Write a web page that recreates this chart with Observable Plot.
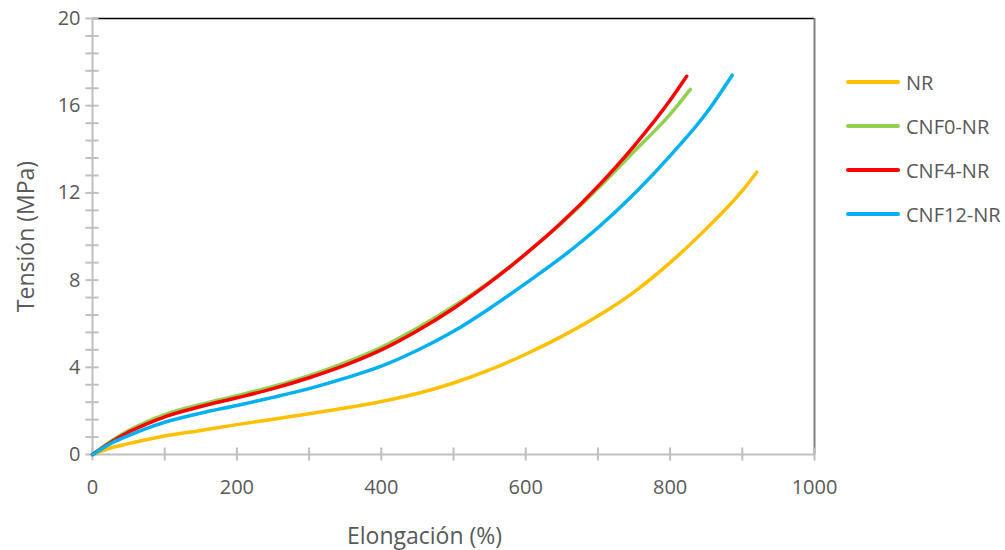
<!DOCTYPE html>
<html>
<head>
<meta charset="utf-8">
<script src="https://cdn.jsdelivr.net/npm/d3@7"></script>
<script src="https://cdn.jsdelivr.net/npm/@observablehq/plot@0.6"></script>
<style>
  body { margin: 0; background: #fff; }
  #wrap { position: relative; width: 1005px; height: 550px; font-family: "Open Sans", sans-serif; color: #595959; }
  #legend { position: absolute; left: 846px; top: 60px; }
  .item { display: flex; align-items: center; height: 44px; }
  .sw { width: 54px; height: 4px; border-radius: 2px; margin-right: 6px; }
  .lab { font-size: 20px; color: #595959; }
  #xtitle { position: absolute; left: 347px; top: 521px; font-size: 23px; line-height: 28px; color: #595959; white-space: nowrap; }
</style>
</head>
<body>
<div id="wrap"></div>
<script>
// ---- data ----
const seriesNames = ["NR", "CNF0-NR", "CNF4-NR", "CNF12-NR"];
const seriesColors = ["#FFC000", "#92D050", "#FF0000", "#00B0F0"];

const elongNR    = [0, 25, 50, 100, 150, 200, 250, 300, 350, 400, 450, 500, 550, 600, 650, 700, 750, 800, 850, 900, 920];
const tensionNR  = [0, 0.3, 0.5, 0.85, 1.1, 1.37, 1.62, 1.87, 2.13, 2.43, 2.8, 3.28, 3.88, 4.6, 5.42, 6.35, 7.45, 8.8, 10.35, 12.1, 12.95];

const elongCNF0   = [0, 25, 50, 75, 100, 150, 200, 250, 300, 350, 400, 450, 500, 550, 600, 650, 700, 750, 800, 828];
const tensionCNF0 = [0, 0.6, 1.1, 1.5, 1.83, 2.3, 2.7, 3.12, 3.62, 4.22, 4.92, 5.8, 6.8, 7.92, 9.2, 10.62, 12.2, 13.9, 15.6, 16.75];

const elongCNF4   = [0, 25, 50, 75, 100, 150, 200, 250, 300, 350, 400, 450, 500, 550, 600, 650, 700, 750, 800, 823];
const tensionCNF4 = [0, 0.55, 1.03, 1.4, 1.73, 2.2, 2.6, 3.02, 3.52, 4.1, 4.8, 5.68, 6.7, 7.88, 9.2, 10.65, 12.3, 14.15, 16.25, 17.35];

const elongCNF12   = [0, 25, 50, 75, 100, 150, 200, 250, 300, 350, 400, 450, 500, 550, 600, 650, 700, 750, 800, 850, 886];
const tensionCNF12 = [0, 0.5, 0.87, 1.2, 1.48, 1.9, 2.25, 2.62, 3.02, 3.5, 4.05, 4.78, 5.65, 6.7, 7.85, 9.05, 10.4, 11.95, 13.7, 15.65, 17.4];

const xMajorTicks = [0, 200, 400, 600, 800, 1000];
const xMinorTicks = [0, 100, 200, 300, 400, 500, 600, 700, 800, 900, 1000];
const yMajorTicks = [0, 4, 8, 12, 16, 20];
const yMinorTicks = [0, 0.8, 1.6, 2.4, 3.2, 4, 4.8, 5.6, 6.4, 7.2, 8, 8.8, 9.6, 10.4, 11.2, 12, 12.8, 13.6, 14.4, 15.2, 16, 16.8, 17.6, 18.4, 19.2, 20];

const xTitle = "Elongación (%)";
const yTitle = "Tensión (MPa)";

// ---- build table ----
const xs = [elongNR, elongCNF0, elongCNF4, elongCNF12];
const ys = [tensionNR, tensionCNF0, tensionCNF4, tensionCNF12];
const rows = [];
seriesNames.forEach((name, i) => {
  xs[i].forEach((x, j) => rows.push({series: name, x, y: ys[i][j]}));
});

const grey = "#BFBFBF";
const textColor = "#595959";
const fmt = d => String(d);

const chart = Plot.plot({
  width: 1005,
  height: 550,
  marginLeft: 92,
  marginRight: 191,
  marginTop: 18,
  marginBottom: 96,
  style: {fontFamily: "'Open Sans', sans-serif", color: textColor, background: "#fff", overflow: "visible"},
  x: {domain: [0, 1000]},
  y: {domain: [0, 20]},
  color: {domain: seriesNames, range: seriesColors},
  marks: [
    Plot.ruleY([20], {stroke: "#000", strokeWidth: 1.5}),
    Plot.ruleX([1000], {stroke: "#808080", strokeWidth: 2}),
    Plot.ruleX([0], {stroke: grey, strokeWidth: 2}),
    Plot.ruleY([0], {stroke: grey, strokeWidth: 2}),
    Plot.axisY({ticks: yMinorTicks, tickSize: 13, dx: 6.5, text: null, stroke: grey, strokeWidth: 2, label: null}),
    Plot.axisX({ticks: xMinorTicks, tickSize: 13, dy: -6.5, text: null, stroke: grey, strokeWidth: 2, label: null}),
    Plot.axisY({ticks: yMajorTicks, tickFormat: fmt, tickSize: 0, tickPadding: 12, fontSize: 20, fill: textColor, label: null}),
    Plot.axisX({ticks: xMajorTicks, tickFormat: fmt, tickSize: 0, tickPadding: 25, fontSize: 20, fill: textColor, label: null}),
    Plot.axisY({ticks: [], tickSize: 0, label: yTitle, labelAnchor: "center", labelArrow: "none", labelOffset: 75, fontSize: 23, fill: textColor}),
    Plot.line(rows, {x: "x", y: "y", z: "series", stroke: "series", strokeWidth: 3.5, curve: "monotone-x", strokeLinecap: "round"})
  ]
});

const wrap = document.getElementById("wrap");
wrap.appendChild(chart);

const xt = document.createElement("div");
xt.id = "xtitle";
xt.textContent = xTitle;
wrap.appendChild(xt);

const legend = document.createElement("div");
legend.id = "legend";
seriesNames.forEach((name, i) => {
  const item = document.createElement("div");
  item.className = "item";
  const sw = document.createElement("div");
  sw.className = "sw";
  sw.style.background = seriesColors[i];
  const lab = document.createElement("span");
  lab.className = "lab";
  lab.textContent = name;
  item.appendChild(sw);
  item.appendChild(lab);
  legend.appendChild(item);
});
wrap.appendChild(legend);
</script>
</body>
</html>
